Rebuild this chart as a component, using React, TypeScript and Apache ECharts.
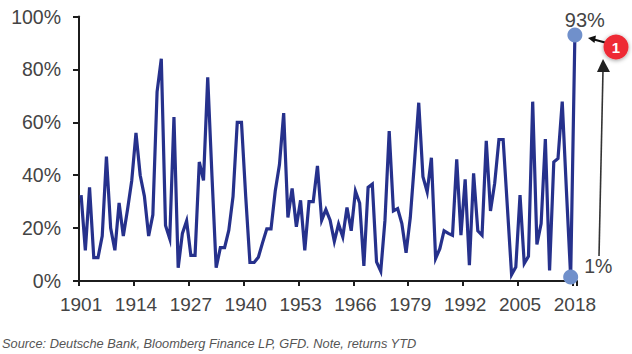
import React, { useEffect, useRef } from "react";
import * as echarts from "echarts";

const startYear = 1901;
const endYear = 2018;
const years: string[] = [];
for (let y = startYear; y <= endYear; y++) years.push(String(y));

const values1901to1925 = [32.5, 11.6, 35.4, 8.8, 8.8, 17, 47, 20, 11.6, 29.5, 17, 27, 38, 56, 40, 32, 17, 25, 71.5, 84, 21, 16, 62, 5, 18];
const values1926to1950 = [22.7, 9.7, 9.7, 45, 38, 77, 40, 5, 12.6, 12.6, 19.2, 32, 60, 60, 32, 7, 7, 9, 14.5, 19.7, 19.7, 34, 44, 63.5, 24];
const values1951to1975 = [35, 20.5, 30.5, 11.6, 30, 30, 43.5, 23, 27, 23, 15, 21.5, 16.7, 27.8, 19, 34, 29.5, 5.7, 35.4, 36.6, 7.2, 3.7, 23, 56.7, 26.5];
const values1976to2000 = [27.4, 21.7, 10.7, 24, 45, 67.4, 39.4, 33.7, 46.6, 8.5, 12.2, 19, 18, 17.3, 46, 17.3, 38.4, 6, 40.7, 19, 17.3, 53, 26.5, 37, 53.5];
const values2001to2018 = [53.5, 28, 2.4, 5.3, 32.5, 6.6, 9.3, 67.8, 13.8, 21.7, 53.7, 4, 45, 46.3, 67.8, 34, 1.5, 93];
const values = [...values1901to1925, ...values1926to1950, ...values1951to1975, ...values1976to2000, ...values2001to2018];

const yTicks = [0, 20, 40, 60, 80, 100];
const highlights = [
  { year: "2017", value: 1.5, label: "1%" },
  { year: "2018", value: 93, label: "93%" },
];
const sourceNote = "Source: Deutsche Bank, Bloomberg Finance LP, GFD. Note, returns YTD";

const FONT = "'Liberation Sans', Arial, sans-serif";

export default function App() {
  const ref = useRef<HTMLDivElement>(null);
  useEffect(() => {
    document.body.style.margin = "0";
    const chart = echarts.init(ref.current!, undefined, { renderer: "svg" });
    chart.setOption({
      animation: false,
      backgroundColor: "#ffffff",
      grid: { left: 79, top: 16.5, width: 498, height: 264.5, containLabel: false },
      xAxis: {
        type: "category",
        data: years,
        boundaryGap: true,
        axisLine: { lineStyle: { color: "#1c1c1c", width: 2 } },
        axisTick: { show: true, interval: 12, length: 5, lineStyle: { color: "#1c1c1c", width: 2 } },
        axisLabel: { interval: 12, color: "#444444", fontSize: 19, fontFamily: FONT, margin: 14 },
      },
      yAxis: {
        type: "value",
        min: yTicks[0],
        max: yTicks[yTicks.length - 1],
        interval: 20,
        splitLine: { show: false },
        axisLine: { show: true, lineStyle: { color: "#1c1c1c", width: 2 } },
        axisTick: { show: true, length: 6, lineStyle: { color: "#1c1c1c", width: 2 } },
        axisLabel: { formatter: "{value}%", color: "#444444", fontSize: 19.5, fontFamily: FONT, margin: 18 },
      },
      series: [
        {
          type: "line",
          data: values,
          symbol: "none",
          z: 3,
          clip: false,
          lineStyle: { color: "#26318c", width: 3.2, join: "miter", miterLimit: 6 },
        },
        {
          type: "scatter",
          z: 4,
          clip: false,
          symbol: "circle",
          symbolSize: 15,
          itemStyle: { color: "#7090cb", opacity: 1 },
          data: [
            {
              value: [highlights[0].year, highlights[0].value],
              label: { show: true, formatter: highlights[0].label, position: "right", offset: [1, -11], color: "#444444", fontSize: 19.5, fontFamily: FONT },
            },
            {
              value: [highlights[1].year, highlights[1].value],
              label: { show: true, formatter: highlights[1].label, position: "top", offset: [10, 2], distance: 0, color: "#444444", fontSize: 20, fontFamily: FONT },
            },
          ],
        },
      ],
      graphic: [
        { type: "line", shape: { x1: 599, y1: 256, x2: 603, y2: 70 }, style: { stroke: "#333333", lineWidth: 1.6 } },
        { type: "polygon", shape: { points: [[603, 59], [610, 72], [597, 72]] }, style: { fill: "#222222" } },
        { type: "line", shape: { x1: 605, y1: 42.5, x2: 594, y2: 39.5 }, style: { stroke: "#111111", lineWidth: 2 } },
        { type: "polygon", shape: { points: [[588, 38], [596, 35.5], [594.5, 43]] }, style: { fill: "#111111" } },
        {
          type: "circle",
          shape: { cx: 616, cy: 47, r: 12.5 },
          style: { fill: "#ee2c36", shadowBlur: 4, shadowColor: "rgba(0,0,0,0.4)", shadowOffsetY: 1 },
        },
        {
          type: "text",
          x: 616,
          y: 47,
          style: { text: "1", fill: "#ffffff", font: `bold 15px ${FONT}`, textAlign: "center", textVerticalAlign: "middle" },
        },
        {
          type: "text",
          x: 2,
          y: 343,
          style: { text: sourceNote, fill: "#555555", font: `italic 12.8px ${FONT}`, textAlign: "left", textVerticalAlign: "middle" },
        },
      ],
    });
    return () => chart.dispose();
  }, []);
  return <div ref={ref} style={{ width: 632, height: 354 }} />;
}
